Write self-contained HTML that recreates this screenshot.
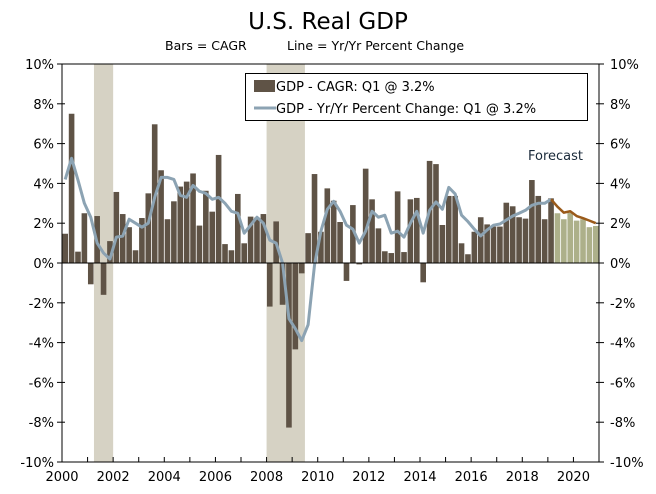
<!DOCTYPE html>
<html><head><meta charset="utf-8"><style>
body{margin:0;background:#fff;}
svg{display:block;font-family:"DejaVu Sans","Liberation Sans",sans-serif;}
</style></head><body>
<svg id="chart" width="656" height="494" viewBox="0 0 656 494" xmlns="http://www.w3.org/2000/svg">
<text x="328" y="29" text-anchor="middle" font-size="23" fill="#000">U.S. Real GDP</text>
<text x="165" y="50" font-size="12.5" fill="#000">Bars = CAGR</text>
<text x="287" y="50" font-size="12.5" fill="#000">Line = Yr/Yr Percent Change</text>
<g id="rec"></g>
<g id="bars"></g>
<g id="lines"></g>
<g id="axes"></g>
<text x="528" y="160" font-size="13" fill="#1a2a3a">Forecast</text>
<g>
<rect x="245.5" y="73.5" width="342" height="47" fill="#fff" stroke="#000" stroke-width="1"/>
<rect x="254" y="80" width="21" height="12" fill="#5f5346"/>
<text x="276" y="91" font-size="13">GDP - CAGR: Q1 @ 3.2%</text>
<line x1="254" y1="108" x2="276" y2="108" stroke="#8ca3b3" stroke-width="3"/>
<text x="276" y="113" font-size="13">GDP - Yr/Yr Percent Change: Q1 @ 3.2%</text>
</g>
</svg>
<script>
const cagr=[1.47,7.5,0.57,2.5,-1.07,2.36,-1.6,1.1,3.57,2.46,1.8,0.64,2.26,3.5,6.97,4.66,2.2,3.1,3.84,4.09,4.5,1.88,3.63,2.58,5.43,0.95,0.64,3.47,0.99,2.33,2.28,2.46,-2.19,2.09,-2.1,-8.27,-4.34,-0.52,1.5,4.47,1.57,3.75,3.13,2.06,-0.9,2.91,-0.07,4.74,3.2,1.74,0.59,0.5,3.6,0.55,3.2,3.27,-0.97,5.13,4.97,1.91,3.37,3.37,0.99,0.44,1.57,2.3,1.94,1.83,1.83,3.03,2.85,2.3,2.23,4.17,3.37,2.2,3.25];
const cagrForecast=[2.5,2.2,2.53,2.13,2.2,1.8,1.86];
const yoy=[4.2,5.26,4.17,3.0,2.3,1.0,0.5,0.2,1.3,1.35,2.2,2.0,1.8,2.0,3.3,4.3,4.3,4.2,3.4,3.3,3.9,3.6,3.5,3.2,3.3,3.0,2.6,2.5,1.5,1.9,2.3,2.0,1.15,1.0,0.0,-2.8,-3.3,-3.9,-3.1,-0.1,1.6,2.7,3.1,2.6,1.9,1.7,1.0,1.6,2.6,2.3,2.4,1.5,1.6,1.3,2.0,2.6,1.5,2.65,3.07,2.7,3.8,3.47,2.4,2.08,1.7,1.36,1.66,1.9,1.96,2.16,2.36,2.5,2.65,2.9,3.0,3.0,3.2];
const yoyForecast=[3.2,2.83,2.53,2.6,2.36,2.25,2.13,2.0];
const yTicks=[10,8,6,4,2,0,-2,-4,-6,-8,-10];
const xYears=[2000,2002,2004,2006,2008,2010,2012,2014,2016,2018,2020];
const recessions=[[2001.25,2002.0],[2008.0,2009.5]];
const NS="http://www.w3.org/2000/svg";
const X0=62,X1=599,Y0=64,Y1=462,NQ=84;
const qw=(X1-X0)/NQ;
const yS=v=>Y0+(10-v)*(Y1-Y0)/20;
const xT=t=>X0+(t-2000)*4*qw;
const xQ=i=>X0+(i+0.5)*qw;
function mk(tag,parent,attrs){const e=document.createElementNS(NS,tag);for(const k in attrs)e.setAttribute(k,attrs[k]);document.getElementById(parent).appendChild(e);return e;}
recessions.forEach((r,i)=>{const e=mk('rect','rec',{x:xT(r[0]),y:Y0,width:xT(r[1])-xT(r[0]),height:Y1-Y0,fill:'#d6d2c4'});

});
function bar(v,i,col){const y=yS(Math.max(v,0)),h=Math.abs(yS(v)-yS(0));const e=mk('rect','bars',{x:xQ(i)-2.8,y:y,width:5.6,height:h,fill:col});

}
cagr.forEach((v,i)=>bar(v,i,'#5f5346'));
cagrForecast.forEach((v,i)=>bar(v,i+cagr.length,'#adb08a'));
const p1=yoy.map((v,i)=>xQ(i)+','+yS(v)).join(' ');
const l1=mk('polyline','lines',{points:p1,fill:'none',stroke:'#8ca3b3','stroke-width':3,'stroke-linejoin':'round'});


const p2=yoyForecast.map((v,i)=>xQ(i+yoy.length-1)+','+yS(v)).join(' ');
const l2=mk('polyline','lines',{points:p2,fill:'none',stroke:'#9a5a1a','stroke-width':2.5,'stroke-linejoin':'round'});


mk('line','axes',{x1:X0,y1:Y0,x2:X0,y2:Y1,stroke:'#000'});
mk('line','axes',{x1:X1,y1:Y0,x2:X1,y2:Y1,stroke:'#000'});
mk('line','axes',{x1:X0,y1:Y0,x2:X1,y2:Y0,stroke:'#000'});
mk('line','axes',{x1:X0,y1:Y1,x2:X1,y2:Y1,stroke:'#000'});
mk('line','axes',{x1:X0,y1:yS(0),x2:X1,y2:yS(0),stroke:'#000'});
yTicks.forEach(v=>{const y=yS(v);
mk('line','axes',{x1:X0-5,y1:y,x2:X0+3,y2:y,stroke:'#000'});
mk('line','axes',{x1:X1-3,y1:y,x2:X1+5,y2:y,stroke:'#000'});
const a=mk('text','axes',{x:X0-8,y:y+5,'text-anchor':'end','font-size':13});a.textContent=v+'%';


const b=mk('text','axes',{x:X1+11,y:y+5,'font-size':13});b.textContent=v+'%';

});
for(let yr=2000;yr<=2021;yr++){const x=xT(yr);mk('line','axes',{x1:x,y1:Y1-5,x2:x,y2:Y1,stroke:'#000'});}
xYears.forEach(yr=>{const t=mk('text','axes',{x:xT(yr),y:Y1+19,'text-anchor':'middle','font-size':13});t.textContent=yr;

});
</script>
</body></html>
